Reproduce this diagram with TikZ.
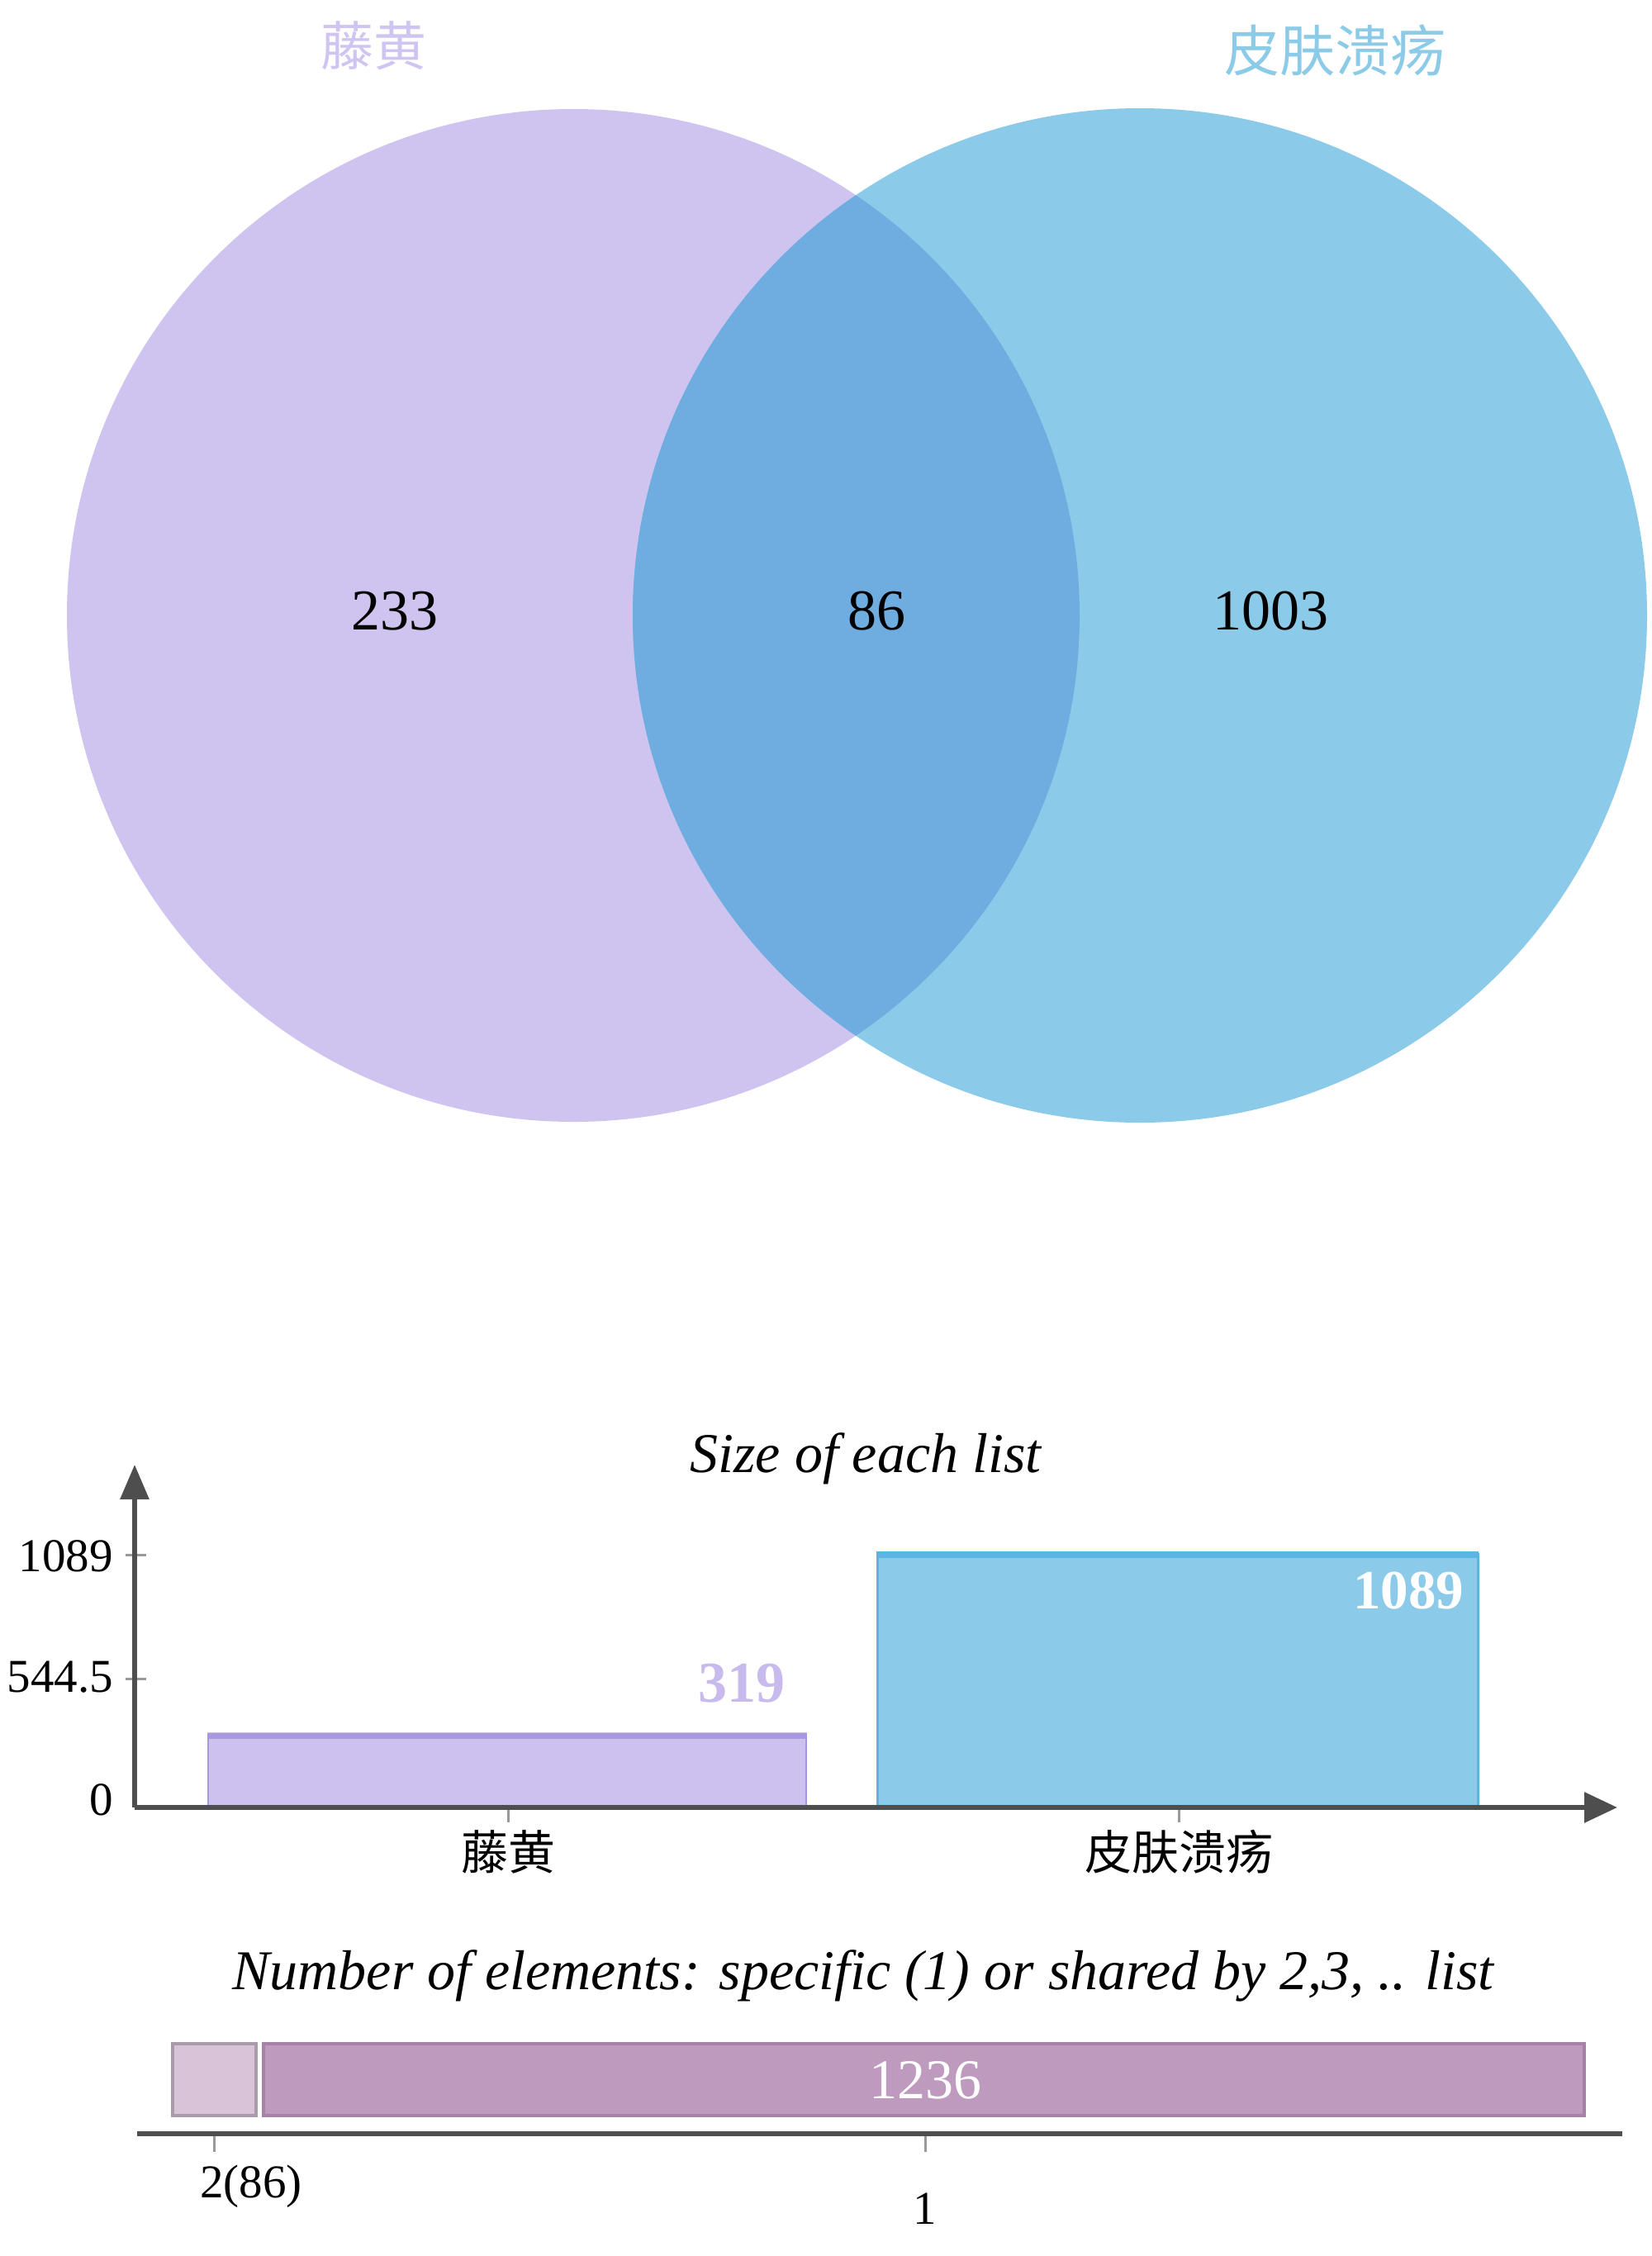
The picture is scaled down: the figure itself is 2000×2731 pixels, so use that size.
\documentclass[tikz,border=0pt]{standalone}
\usepackage{fontspec}
\setmainfont{Liberation Serif}
\newfontfamily\cjk{Noto Sans CJK SC}
\usetikzlibrary{arrows.meta}
\newcommand\fsz[1]{\fontsize{#1}{#1}\selectfont}
\definecolor{lavC}{HTML}{CFC3EF}
\definecolor{blueC}{HTML}{8BCAE8}
\definecolor{overC}{HTML}{6FACDF}
\definecolor{lavT}{HTML}{D0C4F0}
\definecolor{blueT}{HTML}{8BCBE8}
\definecolor{lavB}{HTML}{CDC1EF}
\definecolor{lavBd}{HTML}{A898E0}
\definecolor{blueB}{HTML}{8BCAE8}
\definecolor{blueBd}{HTML}{5BB5E2}
\definecolor{axisC}{HTML}{4E4E4E}
\definecolor{pinkL}{HTML}{D8C3D9}
\definecolor{pinkLd}{HTML}{A99BAA}
\definecolor{pinkM}{HTML}{BE9ABE}
\definecolor{pinkMd}{HTML}{A582A6}
\definecolor{num319}{HTML}{C8BAEC}
\tikzset{
  txt/.style={inner sep=0pt, anchor=base},
  axisline/.style={line width=6pt, draw=axisC},
  tickline/.style={line width=3pt, draw=gray!80},
}
\begin{document}
\begin{tikzpicture}[x=1pt,y=-1pt]
\useasboundingbox[fill=white] (0,0) rectangle (2000,2731);
% Venn
\fill[lavC] (694,745) circle[radius=613];
\fill[blueC] (1380,745) circle[radius=614];
\begin{scope}
  \clip (694,745) circle[radius=613];
  \fill[overC] (1380,745) circle[radius=614];
\end{scope}
\node[txt, text=lavT] (tA) at (452,79) {\cjk\fsz{64}藤黄};
\node[txt, text=blueT] (tB) at (1616,86) {\cjk\fsz{67}皮肤溃疡};
\node[txt] (nA) at (478,762) {\fsz{70}233};
\node[txt] (nAB) at (1061,762) {\fsz{70}86};
\node[txt] (nB) at (1538,762) {\fsz{70}1003};
% Bar chart 1
\node[txt] (t1) at (1048,1782) {\fsz{68}\itshape Size of each list};
\fill[lavB] (251,2097) rectangle (977,2188);
\draw[lavBd, line width=2pt] (252,2188) -- (252,2100) -- (976,2100) -- (976,2188);
\draw[lavBd, line width=7pt] (251,2101) -- (977,2101);
\fill[blueB] (1061,1878) rectangle (1790,2188);
\draw[blueBd, line width=3pt] (1062,2188) -- (1062,1881) -- (1789,1881) -- (1789,2188);
\draw[blueBd, line width=8pt] (1061,1882) -- (1790,1882);
\node[txt, text=num319] (v319) at (898,2060) {\fsz{70}\bfseries 319};
\node[txt, text=white] (v1089) at (1705,1947) {\fsz{67}\bfseries 1089};
\coordinate (o) at (163,2188);
\coordinate (ytop) at (163,1773);
\coordinate (xend) at (1958,2188);
\draw[tickline] (152,1882) -- (177,1882);
\draw[tickline] (152,2032) -- (177,2032);
\draw[tickline] (615,2188) -- (615,2206);
\draw[tickline] (1427,2188) -- (1427,2206);
\draw[axisline, -{Triangle[length=42pt,width=34pt]}] (o) -- (ytop);
\draw[axisline, -{Triangle[length=40pt,width=36pt]}] (o) -- (xend);
\node[txt, anchor=base east] (y1) at (137,1902) {\fsz{57}1089};
\node[txt, anchor=base east] (y2) at (137,2048) {\fsz{57}544.5};
\node[txt, anchor=base east] (y0) at (137,2197) {\fsz{57}0};
\node[txt] (xA) at (615,2263) {\cjk\fsz{57}藤黄};
\node[txt] (xB) at (1427,2263) {\cjk\fsz{57}皮肤溃疡};
% Bar chart 2
\node[txt] (t2) at (1045,2408) {\fsz{68}\itshape Number of elements: specific (1) or shared by 2,3, .. list};
\fill[pinkL] (207,2472) rectangle (312,2563);
\draw[pinkLd, line width=4pt] (209,2474) rectangle (310,2561);
\fill[pinkM] (317,2472) rectangle (1920,2563);
\draw[pinkMd, line width=4pt] (319,2474) rectangle (1918,2561);
\node[txt, text=white] (v1236) at (1120,2540) {\fsz{68}1236};
\coordinate (b0) at (166,2583);
\coordinate (b1) at (1964,2583);
\draw[line width=6pt, draw=axisC] (b0) -- (b1);
\draw[tickline] (259,2586) -- (259,2605);
\draw[tickline] (1120,2586) -- (1120,2605);
\node[txt] (l2) at (304,2660) {\fsz{57}2(86)};
\node[txt] (l1) at (1120,2692) {\fsz{57}1};
\end{tikzpicture}
\end{document}
